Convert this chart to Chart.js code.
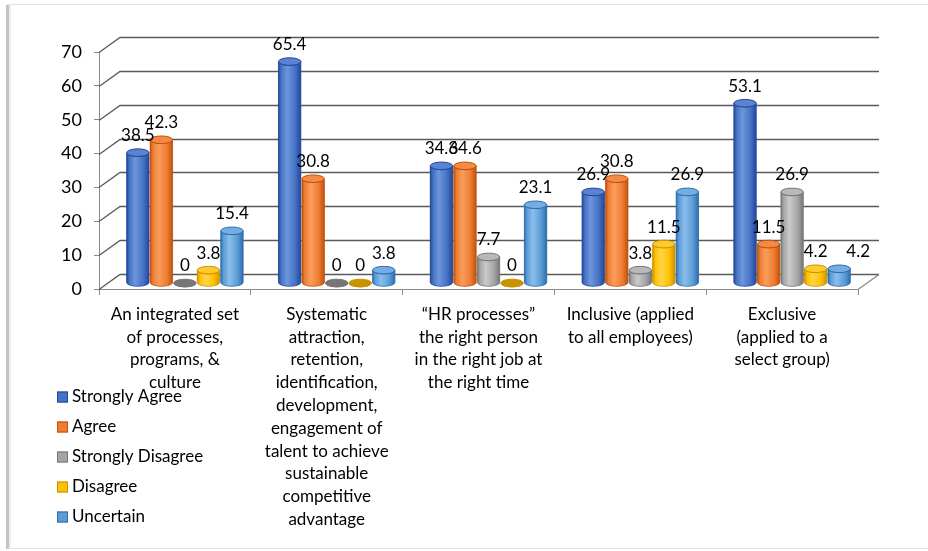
<!DOCTYPE html>
<html>
<head>
<meta charset="utf-8">
<title>Talent management definitions</title>
<script src="https://cdn.jsdelivr.net/npm/chart.js@4.4.0/dist/chart.umd.min.js"></script>
<style>
  html, body { margin: 0; padding: 0; background: #fff; }
  #wrap { width: 928px; height: 551px; }
</style>
</head>
<body>
<div id="wrap"><canvas id="talentChart" width="928" height="551"></canvas></div>
<script>
// Category labels (one array entry per line)
const categories = [
    ['An integrated set', 'of processes,', 'programs, &', 'culture'],
    ['Systematic', 'attraction,', 'retention,', 'identification,', 'development,',
     'engagement of', 'talent to achieve', 'sustainable', 'competitive', 'advantage'],
    ['\u201cHR processes\u201d', 'the right person', 'in the right job at', 'the right time'],
    ['Inclusive (applied', 'to all employees)'],
    ['Exclusive', '(applied to a', 'select group)']
];

// Series
const seriesNames = ['Strongly Agree', 'Agree', 'Strongly Disagree', 'Disagree', 'Uncertain'];
const stronglyAgree    = [38.5, 65.4, 34.6, 26.9, 53.1];
const agree            = [42.3, 30.8, 34.6, 30.8, 11.5];
const stronglyDisagree = [0, 0, 7.7, 3.8, 26.9];
const disagree         = [3.8, 0, 0, 11.5, 4.2];
const uncertain        = [15.4, 3.8, 23.1, 26.9, 4.2];
const seriesValues = [stronglyAgree, agree, stronglyDisagree, disagree, uncertain];

// Value axis
const yTicks = [0, 10, 20, 30, 40, 50, 60, 70];

// Colours: body, highlight, edge, cap
const mainColors  = ['#4472C4', '#ED7D31', '#A5A5A5', '#FFC000', '#5B9BD5'];
const lightColors = ['#6F95DC', '#FA9D5C', '#CACACA', '#FFD548', '#8BBFEC'];
const edgeColors  = ['#23479A', '#C2500E', '#767676', '#C99300', '#2E6DAE'];
const capColors   = ['#5A84D2', '#F48A44', '#B8B8B8', '#FFCB2A', '#74ADE2'];

// Depth of the 3D box and offset of the bar row inside it
const depth = { dx: 21, dy: -15 };
const barShift = { dx: 10, dy: -6 };

// last Uncertain label is pushed right so it clears the Disagree one
const labelNudge = { series: 4, index: 4, dx: 19 };

const FONT = 'Lato, "Open Sans", sans-serif';

// White page and thin frame round the chart
const framePlugin = {
    id: 'frame',
    beforeDraw(chart) {
        const ctx = chart.ctx;
        ctx.save();
        ctx.fillStyle = '#fff';
        ctx.fillRect(0, 0, chart.width, chart.height);
        ctx.strokeStyle = '#e4e4e4';
        ctx.lineWidth = 1;
        ctx.strokeRect(7.5, 4.5, 930, 544);
        ctx.fillStyle = '#c4c4c4';
        ctx.fillRect(6, 5, 3, 544);
        ctx.fillStyle = '#ececec';
        ctx.fillRect(9, 5, 2, 544);
        ctx.restore();
    }
};

// Back wall grid, side wall diagonals and floor edge
const wallPlugin = {
    id: 'wall',
    beforeDatasetsDraw(chart) {
        const ctx = chart.ctx;
        const ya = chart.scales.y;
        const { left, right } = chart.chartArea;
        ctx.save();
        ctx.strokeStyle = '#5a5a5a';
        ctx.lineWidth = 1.3;
        yTicks.forEach(v => {
            const y = Math.round(ya.getPixelForValue(v)) + 0.5;
            ctx.beginPath();
            ctx.moveTo(left, y);
            ctx.lineTo(left + depth.dx, y + depth.dy);
            ctx.lineTo(right + depth.dx, y + depth.dy);
            ctx.stroke();
        });
        const y0 = Math.round(ya.getPixelForValue(0)) + 0.5;
        ctx.strokeStyle = '#8a8a8a';
        ctx.beginPath();
        ctx.moveTo(right, y0);
        ctx.lineTo(right + depth.dx, y0 + depth.dy);
        ctx.stroke();
        ctx.restore();
    }
};

// Cylinders drawn over the bar elements, plus value labels
const cylinderPlugin = {
    id: 'cylinders',
    beforeDatasetsDraw(chart) {
        chart.ctx.save();
        chart.ctx.translate(barShift.dx, barShift.dy);
    },
    afterDatasetsDraw(chart) {
        const ctx = chart.ctx;
        const ry = 3.8;
        chart.data.datasets.forEach((ds, i) => {
            const meta = chart.getDatasetMeta(i);
            meta.data.forEach(bar => {
                const w = bar.width;
                const rx = w / 2;
                const cx = bar.x;
                const x0 = cx - rx;
                const top = bar.y;
                const base = bar.base;

                // body with horizontal shading
                const g = ctx.createLinearGradient(x0, 0, x0 + w, 0);
                g.addColorStop(0, edgeColors[i]);
                g.addColorStop(0.12, mainColors[i]);
                g.addColorStop(0.38, lightColors[i]);
                g.addColorStop(0.75, mainColors[i]);
                g.addColorStop(1, edgeColors[i]);
                ctx.fillStyle = g;
                ctx.beginPath();
                ctx.moveTo(x0, top);
                ctx.lineTo(x0, base);
                ctx.ellipse(cx, base, rx, ry, 0, Math.PI, 0, true);
                ctx.lineTo(x0 + w, top);
                ctx.ellipse(cx, top, rx, ry, 0, 0, Math.PI, false);
                ctx.closePath();
                ctx.fill();
                ctx.strokeStyle = edgeColors[i];
                ctx.lineWidth = 0.8;
                ctx.stroke();

                // top cap
                ctx.beginPath();
                ctx.ellipse(cx, top, rx, ry, 0, 0, Math.PI * 2);
                ctx.fillStyle = base - top < 1 ? edgeColors[i] : capColors[i];
                ctx.fill();
                ctx.strokeStyle = edgeColors[i];
                ctx.lineWidth = 1;
                ctx.stroke();
            });
        });

        // value labels
        ctx.fillStyle = '#000';
        ctx.font = '17px ' + FONT;
        ctx.textAlign = 'center';
        ctx.textBaseline = 'middle';
        chart.data.datasets.forEach((ds, i) => {
            const meta = chart.getDatasetMeta(i);
            meta.data.forEach((bar, j) => {
                let x = bar.x;
                if (i === labelNudge.series && j === labelNudge.index) x += labelNudge.dx;
                ctx.fillText(String(ds.data[j]), x, bar.y - 17);
            });
        });
        ctx.restore();
    }
};

// Legend stacked down the lower left
const legendPlugin = {
    id: 'sideLegend',
    afterDraw(chart) {
        const ctx = chart.ctx;
        ctx.save();
        ctx.font = '17px ' + FONT;
        ctx.textBaseline = 'middle';
        ctx.textAlign = 'left';
        seriesNames.forEach((name, i) => {
            const y = 397 + i * 30;
            ctx.fillStyle = mainColors[i];
            ctx.fillRect(57, y - 5.5, 11, 11);
            ctx.strokeStyle = edgeColors[i];
            ctx.lineWidth = 1;
            ctx.strokeRect(57.5, y - 5, 10, 10);
            ctx.fillStyle = '#000';
            ctx.fillText(name, 72, y);
        });
        ctx.restore();
    }
};

const ctx = document.getElementById('talentChart').getContext('2d');

new Chart(ctx, {
    type: 'bar',
    data: {
        labels: categories,
        datasets: seriesNames.map((name, i) => ({
            label: name,
            data: seriesValues[i],
            backgroundColor: mainColors[i],
            borderWidth: 0,
            categoryPercentage: 0.775,
            barPercentage: 0.95
        }))
    },
    options: {
        responsive: false,
        animation: false,
        layout: { padding: { top: 52, right: 70, left: 0, bottom: 0 } },
        plugins: {
            legend: { display: false },
            tooltip: { enabled: false }
        },
        scales: {
            x: {
                grid: { offset: true, drawOnChartArea: false, tickLength: 6, color: '#8a8a8a' },
                border: { color: '#8a8a8a' },
                ticks: {
                    font: { family: FONT, size: 17, lineHeight: 1.34 },
                    color: '#000',
                    padding: 8,
                    maxRotation: 0,
                    autoSkip: false
                },
                afterFit(scale) { scale.height = 262; }
            },
            y: {
                min: 0,
                max: 70,
                afterBuildTicks(scale) { scale.ticks = yTicks.map(v => ({ value: v })); },
                grid: { drawOnChartArea: false, tickLength: 5, color: '#8a8a8a' },
                border: { color: '#8a8a8a' },
                ticks: { font: { family: FONT, size: 18 }, color: '#000', padding: 12 },
                afterFit(scale) { scale.width = 99; }
            }
        }
    },
    plugins: [framePlugin, wallPlugin, cylinderPlugin, legendPlugin]
});
</script>
</body>
</html>
